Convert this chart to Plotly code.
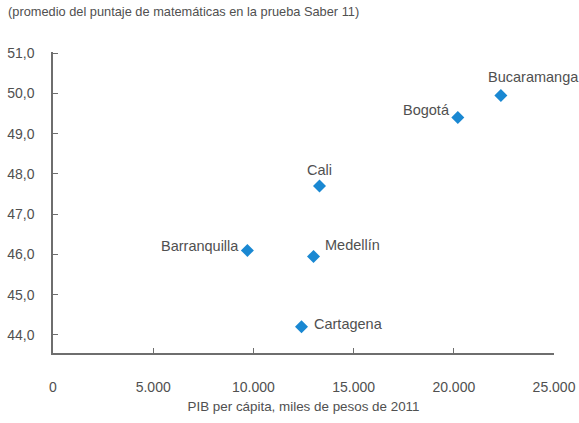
import plotly.graph_objects as go

cities = ["Barranquilla", "Medellín", "Cartagena", "Cali", "Bogotá", "Bucaramanga"]
pib = [9700, 13000, 12400, 13300, 20200, 22350]
score = [46.1, 45.95, 44.2, 47.7, 49.4, 49.95]

x_ticks = [0, 5000, 10000, 15000, 20000, 25000]
x_tick_labels = ["0", "5.000", "10.000", "15.000", "20.000", "25.000"]
y_ticks = [44, 45, 46, 47, 48, 49, 50, 51]
y_tick_labels = ["44,0", "45,0", "46,0", "47,0", "48,0", "49,0", "50,0", "51,0"]

title_text = "(promedio del puntaje de matemáticas en la prueba Saber 11)"
x_title = "PIB per cápita, miles de pesos de 2011"

# label placement styles (anchor, pixel shifts)
label_style = {
    "Barranquilla": ("right", -6, 4),
    "Medellín": ("left", 9, 11),
    "Cartagena": ("left", 10, 3),
    "Cali": ("center", 0, 16),
    "Bogotá": ("right", -6, 8),
    "Bucaramanga": ("left", -15, 18),
}

FONT = "Liberation Sans, Arial, sans-serif"
TXT = "#505050"
AX = "#6e6e6e"

fig = go.Figure()
fig.add_trace(go.Scatter(
    x=pib, y=score, mode="markers",
    marker=dict(symbol="diamond", size=10, color="#1a88d2"),
    hoverinfo="text", text=cities, showlegend=False,
))

for c, xv, yv in zip(cities, pib, score):
    anchor, dx, dy = label_style[c]
    fig.add_annotation(x=xv, y=yv, text=c, showarrow=False,
                       xanchor=anchor, yanchor="middle", xshift=dx, yshift=dy,
                       font=dict(family=FONT, size=14.5, color=TXT))

fig.update_layout(
    width=579, height=423,
    margin=dict(l=53, r=25, t=52, b=70),
    paper_bgcolor="white", plot_bgcolor="white",
    font=dict(family=FONT, size=14, color=TXT),
    title=dict(text=title_text, x=8/579, xanchor="left", xref="container",
               y=1 - 12/423, yanchor="middle", yref="container",
               font=dict(family=FONT, size=12.8, color=TXT)),
)
fig.update_xaxes(
    range=[0, 25000], tickvals=x_ticks, ticktext=x_tick_labels, automargin=False,
    showgrid=False, zeroline=False, showline=True, linecolor=AX, linewidth=1.5,
    ticks="inside", ticklen=5, tickcolor=AX, ticklabelstandoff=20,
    tickfont=dict(size=14),
    title=dict(text=x_title, standoff=8, font=dict(family=FONT, size=13.4, color=TXT)),
)
fig.update_yaxes(
    range=[43.55, 51.03], tickvals=y_ticks, ticktext=y_tick_labels, automargin=False,
    showgrid=False, zeroline=False, showline=True, linecolor=AX, linewidth=1.5,
    ticks="inside", ticklen=5, tickcolor=AX, ticklabelstandoff=14,
    tickfont=dict(size=14),
)

fig.write_html("out.html", config={"displayModeBar": False},
               post_script="document.body.style.margin='0';")
